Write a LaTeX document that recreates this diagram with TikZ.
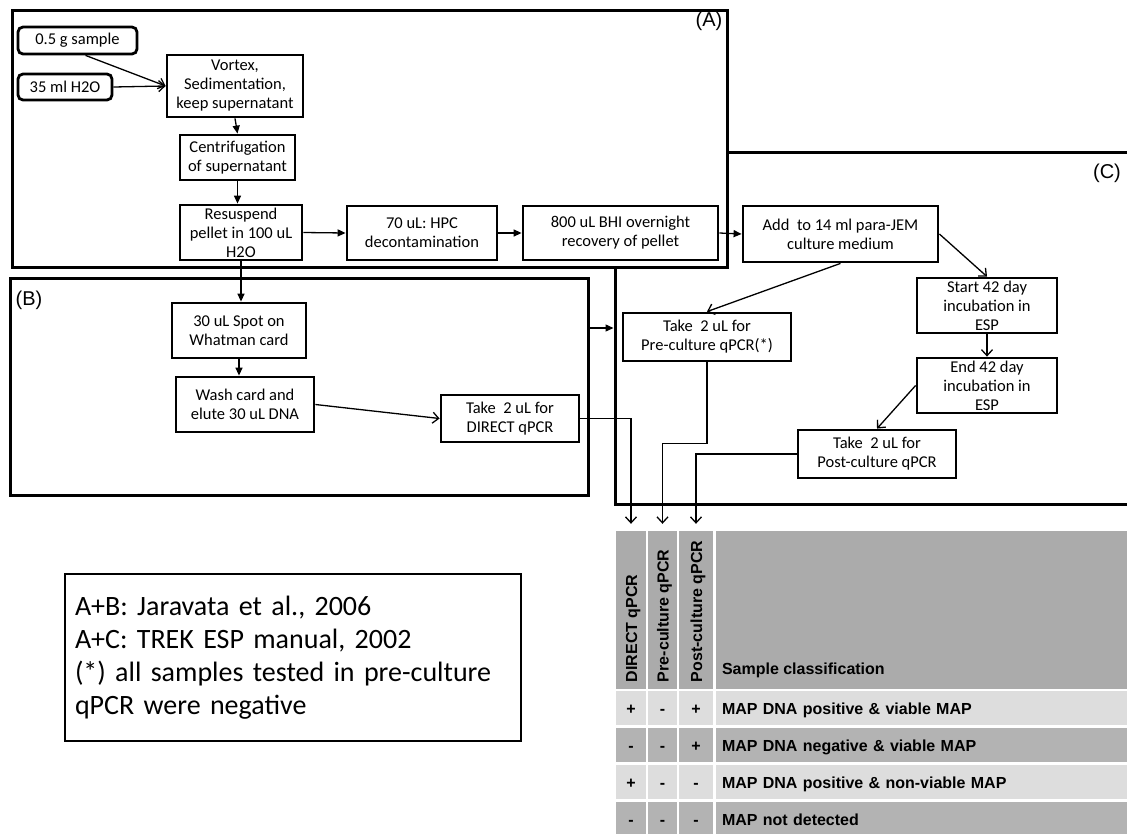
\documentclass[tikz,border=0pt]{standalone}
\usepackage{fontspec}
\setmainfont{Carlito}
\newfontfamily\arialfont{Liberation Sans}
\usetikzlibrary{arrows.meta}

\definecolor{hdgray}{HTML}{ABABAB}
\definecolor{rowlight}{HTML}{DDDDDD}
\definecolor{rowdark}{HTML}{B3B3B3}

\begin{document}
\begin{tikzpicture}[
  x=1pt, y=-1pt,
  frame/.style={draw, line width=3pt, fill=white, inner sep=0pt},
  stepbox/.style={
    draw, line width=2.8pt, fill=white, align=center, inner sep=0pt,
    font=\fontsize{16.5}{19}\selectfont
  },
  roundbox/.style={stepbox, rounded corners=5pt},
  tag/.style={font=\arialfont\fontsize{20}{24}\selectfont},
  fillarrow/.style={line width=1.3pt, -{Triangle[length=8pt,width=7pt]}},
  openarrow/.style={line width=1.3pt, -{Straight Barb[length=6pt,width=11pt]}},
  cell/.style={inner sep=0pt, text height=12pt, text depth=0pt,
    font=\arialfont\bfseries\fontsize{16}{19}\selectfont},
  hdcell/.style={cell, fill=hdgray, minimum height=158pt},
  notebox/.style={
    draw, line width=1.5pt, minimum width=456pt, minimum height=167pt,
    text width=436pt, align=left, inner sep=10pt,
    font=\fontsize{28}{33}\selectfont
  },
]
\useasboundingbox (0,0) rectangle (1127,833);

%% Frames (C under A, then B)
\node[frame, minimum width=520pt, minimum height=352pt] (frameC) at (875,328)   {};
\node[frame, minimum width=715pt, minimum height=257pt] (frameA) at (369.5,138.5) {};
\node[frame, minimum width=578pt, minimum height=217pt] (frameB) at (299,386.5) {};

\node[tag] (tagA) at (709,21)   {(A)};
\node[tag] (tagB) at (29,300)   {(B)};
\node[tag] (tagC) at (1107,173) {(C)};

%% (A) sample preparation
\node[roundbox, minimum width=119pt, minimum height=27pt] (sample) at (77.5,40.5) {0.5 g sample};
\node[roundbox, minimum width=94pt,  minimum height=26pt] (water)  at (65,87)     {35 ml H2O};
\node[stepbox, minimum width=136pt, minimum height=62pt] (vortex) at (235,86)    {Vortex,\\Sedimentation,\\keep supernatant};
\node[stepbox, minimum width=115pt, minimum height=45pt] (centri) at (237.5,157.5) {Centrifugation\\of supernatant};
\node[stepbox, minimum width=122pt, minimum height=55pt] (resus)  at (241,232.5) {Resuspend\\pellet in 100 uL\\H2O};
\node[stepbox, minimum width=150pt, minimum height=54pt] (hpc)    at (422,233)   {70 uL: HPC\\decontamination};
\node[stepbox, minimum width=195pt, minimum height=54pt] (bhi)    at (620.5,233) {800 uL BHI overnight\\recovery of pellet};

%% (C) culture
\node[stepbox, minimum width=195pt, minimum height=56pt] (jem)      at (840.5,234) {Add~ to 14 ml para-JEM\\culture medium};
\node[stepbox, minimum width=140pt, minimum height=55pt] (incStart) at (987,305.5) {Start 42 day\\incubation in\\ESP};
\node[stepbox, minimum width=140pt, minimum height=55pt] (incEnd)   at (987,385.5) {End 42 day\\incubation in\\ESP};
\node[stepbox, minimum width=168pt, minimum height=48pt] (pre)      at (707,337)   {Take~ 2 uL for\\Pre-culture qPCR(*)};
\node[stepbox, minimum width=158pt, minimum height=48pt] (post)     at (877,454)   {Take~ 2 uL for\\Post-culture qPCR};

%% (B) Whatman card
\node[stepbox, minimum width=134pt, minimum height=55pt] (spot)   at (239,330.5) {30 uL Spot on\\Whatman card};
\node[stepbox, minimum width=138pt, minimum height=55pt] (wash)   at (245,404.5) {Wash card and\\elute 30 uL DNA};
\node[stepbox, minimum width=138pt, minimum height=47pt] (direct) at (510,418.5) {Take~ 2 uL for\\DIRECT qPCR};

%% Result table: header
\node[hdcell, minimum width=30pt]  (hd1) at (631,610)   {};
\node[hdcell, minimum width=29pt]  (hd2) at (662.5,610) {};
\node[hdcell, minimum width=34pt]  (hd3) at (696,610)   {};
\node[hdcell, minimum width=411pt] (hd4) at (921.5,610) {};
\node[cell, rotate=90, anchor=west] (hdt1) at ([yshift=7pt]hd1.south) {DIRECT qPCR};
\node[cell, rotate=90, anchor=west] (hdt2) at ([yshift=7pt]hd2.south) {Pre-culture qPCR};
\node[cell, rotate=90, anchor=west] (hdt3) at ([yshift=7pt]hd3.south) {Post-culture qPCR};
\node[cell, anchor=west] (hdt4) at ([xshift=6pt,yshift=21pt]hd4.south west) {Sample classification};

%% Result table: rows
\node[cell, fill=rowlight, minimum width=30pt, minimum height=34pt] (r1a) at (631,708)   {+};
\node[cell, fill=rowlight, minimum width=29pt, minimum height=34pt] (r1b) at (662.5,708) {-};
\node[cell, fill=rowlight, minimum width=34pt, minimum height=34pt] (r1c) at (696,708)   {+};
\node[cell, fill=rowlight, minimum height=34pt, text width=399pt, inner xsep=6pt, align=left] (r1d) at (921.5,708) {MAP DNA positive \& viable MAP};

\node[cell, fill=rowdark, minimum width=30pt, minimum height=34pt] (r2a) at (631,745)   {-};
\node[cell, fill=rowdark, minimum width=29pt, minimum height=34pt] (r2b) at (662.5,745) {-};
\node[cell, fill=rowdark, minimum width=34pt, minimum height=34pt] (r2c) at (696,745)   {+};
\node[cell, fill=rowdark, minimum height=34pt, text width=399pt, inner xsep=6pt, align=left] (r2d) at (921.5,745) {MAP DNA negative \& viable MAP};

\node[cell, fill=rowlight, minimum width=30pt, minimum height=34pt] (r3a) at (631,782)   {+};
\node[cell, fill=rowlight, minimum width=29pt, minimum height=34pt] (r3b) at (662.5,782) {-};
\node[cell, fill=rowlight, minimum width=34pt, minimum height=34pt] (r3c) at (696,782)   {-};
\node[cell, fill=rowlight, minimum height=34pt, text width=399pt, inner xsep=6pt, align=left] (r3d) at (921.5,782) {MAP DNA positive \& non-viable MAP};

\node[cell, fill=rowdark, minimum width=30pt, minimum height=34pt] (r4a) at (631,819)   {-};
\node[cell, fill=rowdark, minimum width=29pt, minimum height=34pt] (r4b) at (662.5,819) {-};
\node[cell, fill=rowdark, minimum width=34pt, minimum height=34pt] (r4c) at (696,819)   {-};
\node[cell, fill=rowdark, minimum height=34pt, text width=399pt, inner xsep=6pt, align=left] (r4d) at (921.5,819) {MAP not detected};

%% Note
\node[notebox] (note) at (293,657.5) {A+B: Jaravata et al., 2006\\A+C: TREK ESP manual, 2002\\(*) all samples tested in pre-culture\\qPCR were negative};

%% Connections (A)
\draw[openarrow] ([xshift=8pt]sample.south) -- (vortex.west);
\draw[openarrow] (water.east) -- (vortex.west);
\draw[fillarrow] (vortex.south) -- (centri.north);
\draw[fillarrow] (centri.south) -- (centri.south |- resus.north);
\draw[fillarrow] (resus.east) -- (hpc.west);
\draw[fillarrow] (hpc.east) -- (bhi.west);
\draw[fillarrow] (bhi.east) -- (jem.west);

%% Connections (B)
\draw[fillarrow] (resus.south) -- (resus.south |- spot.north);
\draw[fillarrow] (spot.south) -- (spot.south |- wash.north);
\draw[openarrow] (wash.east) -- (direct.west);
\coordinate (bcLevel) at (600,328);
\draw[fillarrow] (frameB.east |- bcLevel) -- (frameC.west |- bcLevel);

%% Connections (C)
\draw[openarrow] (jem.east) -- (incStart.north);
\draw[openarrow] (jem.south) -- (pre.north);
\draw[openarrow] (incStart.south) -- (incEnd.north);
\draw[openarrow] (incEnd.west) -- (post.north);

%% Into the table
\draw[openarrow] (direct.east) -| ([yshift=7pt]hd1.north);
\draw[openarrow] (pre.south) -- ++(0,81) -| ([yshift=7pt]hd2.north);
\draw[openarrow] (post.west) -| ([yshift=7pt]hd3.north);

\end{tikzpicture}
\end{document}
